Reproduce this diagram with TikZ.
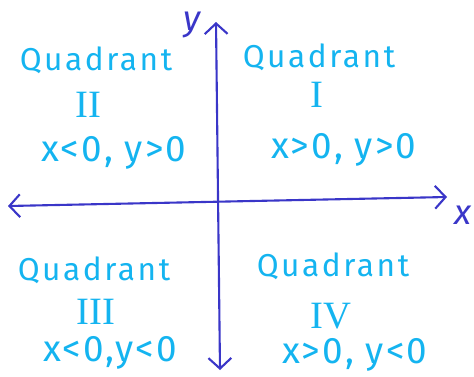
\documentclass[tikz,border=0pt]{standalone}
\usepackage{fontspec}
\setmainfont{Fira Sans}
\newfontfamily\quadfont{Fira Sans}[LetterSpace=8]
\newfontfamily\signfont{Fira Sans}[LetterSpace=6]
\newfontfamily\numfont{Liberation Serif}
\usetikzlibrary{arrows.meta}
\definecolor{color_axis}{HTML}{3A36C8}
\definecolor{color_label}{HTML}{14B4F0}
\tikzset{
  axis_line/.style={draw=color_axis, line width=1.2pt, line cap=round, {Straight Barb[length=6pt, width=13pt]}-{Straight Barb[length=6pt, width=13pt]}},
  axis_label/.style={font=\itshape\fontsize{20}{20}\selectfont, text=color_axis, inner sep=0pt},
  quad_name/.style={font=\quadfont\fontsize{18}{18}\selectfont, text=color_label, inner sep=0pt},
  quad_num/.style={font=\numfont\fontsize{22}{22}\selectfont, text=color_label, inner sep=0pt},
  quad_sign/.style={font=\signfont\fontsize{21}{21}\selectfont, text=color_label, inner sep=0pt},
}

\begin{document}
\begin{tikzpicture}
    \useasboundingbox (0, 0) rectangle (9.48, 7.52);

    % axes
    \coordinate (yt) at (4.32, 7.08);
    \coordinate (yb) at (4.40, 0.12);
    \coordinate (xl) at (0.16, 3.40);
    \coordinate (xr) at (8.94, 3.58);
    \draw[axis_line] (yb) -- (yt);
    \draw[axis_line] (xl) -- (xr);
    \node[axis_label] (ylab) at (3.84, 7.02) {y};
    \node[axis_label] (xlab) at (9.26, 3.22) {x};

    % quadrant I
    \node[quad_name] (q1)      at (6.38, 6.38) {Quadrant};
    \node[quad_num]  (q1_num)  at (6.34, 5.62) {I};
    \node[quad_sign] (q1_sign) at (6.88, 4.52) {x>0, y>0};

    % quadrant II
    \node[quad_name] (q2)      at (1.92, 6.32) {Quadrant};
    \node[quad_num]  (q2_num)  at (1.76, 5.42) {II};
    \node[quad_sign] (q2_sign) at (2.28, 4.46) {x<0, y>0};

    % quadrant III
    \node[quad_name] (q3)      at (1.88, 2.12) {Quadrant};
    \node[quad_num]  (q3_num)  at (1.92, 1.28) {III};
    \node[quad_sign] (q3_sign) at (2.20, 0.46) {x<0,y<0};

    % quadrant IV
    \node[quad_name] (q4)      at (6.66, 2.20) {Quadrant};
    \node[quad_num]  (q4_num)  at (6.62, 1.20) {IV};
    \node[quad_sign] (q4_sign) at (7.10, 0.42) {x>0, y<0};
\end{tikzpicture}
\end{document}
